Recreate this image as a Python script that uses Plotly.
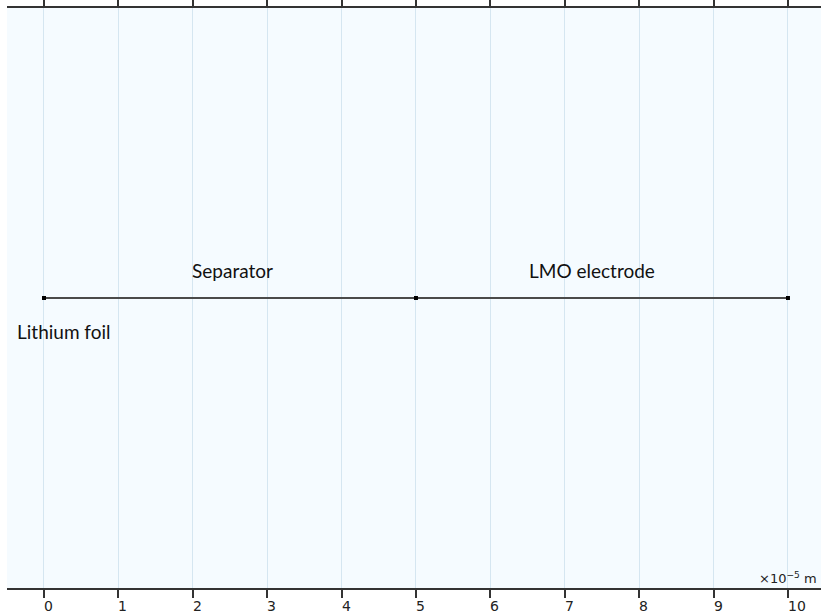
import plotly.graph_objects as go

# 1D cell geometry: vertices along the cell thickness (units of 1e-5 m)
vertex_x = [0, 5, 10]
vertex_y = [0, 0, 0]

# domain / boundary labels and where they sit along the axis
domain_labels = ["Separator", "LMO electrode"]
domain_centers = [2.53, 7.37]
boundary_label = "Lithium foil"
boundary_x = 0.27

tick_vals = list(range(0, 11))
tick_text = [str(v) for v in tick_vals]

fig = go.Figure()

fig.add_trace(go.Scatter(
    x=vertex_x, y=vertex_y,
    mode="lines+markers",
    line=dict(color="#4a4a4a", width=2),
    marker=dict(symbol="square", size=4, color="black"),
    hoverinfo="skip",
    showlegend=False,
))

label_font = dict(family="Lato, Open Sans, sans-serif", size=19, color="#111111")
for name, cx in zip(domain_labels, domain_centers):
    fig.add_annotation(x=cx, y=0, text=name, showarrow=False,
                       yshift=28, font=label_font)
fig.add_annotation(x=boundary_x, y=0, text=boundary_label, showarrow=False,
                   yshift=-33, font=label_font)

# x tick labels, set just below the tick marks, left edge at each tick
tick_font = dict(family="DejaVu Sans", size=14, color="#222222")
for v, t in zip(tick_vals, tick_text):
    fig.add_annotation(x=v, xref="x", yref="paper", y=0, text=t,
                       showarrow=False, xanchor="left", yanchor="top",
                       xshift=-2, yshift=-8, font=tick_font)

# unit/exponent marker at the end of the x axis
fig.add_annotation(xref="paper", yref="paper", x=1.0, y=0.0,
                   text="×10<sup>−5</sup> m", showarrow=False,
                   xanchor="right", yanchor="bottom", xshift=-2, yshift=0,
                   font=dict(family="DejaVu Sans", size=13, color="#222222"))

fig.update_layout(
    width=821, height=613,
    margin=dict(l=7, r=0, t=8, b=25, autoexpand=False),
    paper_bgcolor="white",
    plot_bgcolor="#f5fbff",
    showlegend=False,
    xaxis=dict(
        range=[-0.497, 10.444],
        tickvals=tick_vals, showticklabels=False,
        showgrid=True, gridcolor="#d5e6f1", gridwidth=1,
        zeroline=False,
        showline=True, linecolor="#333333", linewidth=2,
        ticks="outside", ticklen=8, tickwidth=2, tickcolor="#333333",
        mirror="ticks",
        fixedrange=True,
    ),
    yaxis=dict(
        range=[-1, 1],
        showgrid=False, zeroline=False, showline=False,
        showticklabels=False, ticks="",
        fixedrange=True,
    ),
)

fig.write_html("out.html")
